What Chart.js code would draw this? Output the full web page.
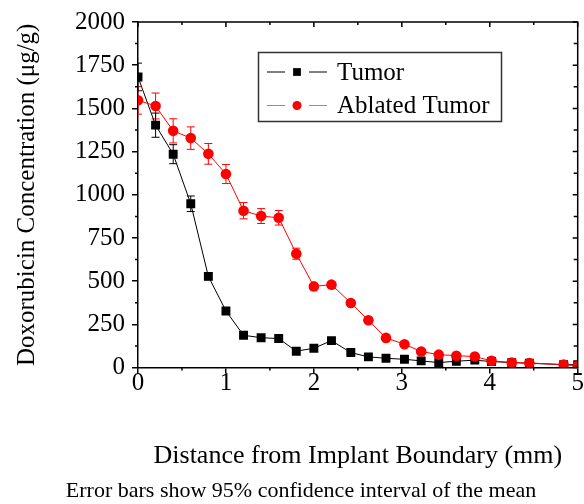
<!DOCTYPE html>
<html>
<head>
<meta charset="utf-8">
<script src="https://cdn.jsdelivr.net/npm/chart.js@4"></script>
<style>
  html, body { margin: 0; padding: 0; background: #fff; }
  #wrap { width: 584px; height: 504px; }
</style>
</head>
<body>
<div id="wrap"><canvas id="chart" width="584" height="504"></canvas></div>
<script>
const distance = [0, 0.2, 0.4, 0.6, 0.8, 1.0, 1.2, 1.4, 1.6, 1.8, 2.0, 2.2, 2.42, 2.62, 2.82, 3.03, 3.22, 3.42, 3.62, 3.83, 4.02, 4.25, 4.45, 4.84, 5.0];
const tumor = [1682, 1403, 1235, 948, 528, 328, 187, 173, 168, 95, 112, 156, 87, 62, 54, 48, 39, 29, 37, 43, 35, 29, 25, 17, 17];
const tumorErr = [80, 70, 55, 45, 20, 12, 10, 8, 8, 8, 8, 10, 8, 5, 5, 5, 5, 5, 5, 5, 5, 5, 5, 5, 5];
const ablated = [1547, 1514, 1370, 1328, 1237, 1120, 908, 877, 867, 659, 470, 480, 374, 274, 172, 135, 93, 75, 69, 64, 39, 29, 27, 17, 10];
const ablatedErr = [80, 75, 70, 65, 60, 55, 47, 43, 42, 32, 15, 15, 10, 8, 8, 8, 8, 8, 8, 8, 8, 5, 5, 5, 5];

const xTicks = [0, 1, 2, 3, 4, 5];
const yTicks = [0, 250, 500, 750, 1000, 1250, 1500, 1750, 2000];

const FONT = "'Liberation Serif', 'Times New Roman', serif";

const toPoints = (ys) => ys.map((y, i) => ({x: distance[i], y: y}));

// error bars, drawn under the markers
const errorBars = {
    id: 'errorBars',
    beforeDatasetsDraw(chart) {
        const ctx = chart.ctx;
        const xs = chart.scales.x, ys = chart.scales.y;
        const area = chart.chartArea;
        ctx.save();
        ctx.beginPath();
        ctx.rect(area.left, area.top - 10, area.right - area.left, area.bottom - area.top + 20);
        ctx.clip();
        chart.data.datasets.forEach(ds => {
            ctx.strokeStyle = ds.borderColor;
            ctx.lineWidth = 1;
            ds.data.forEach((p, i) => {
                const e = ds.errors[i];
                const px = xs.getPixelForValue(p.x);
                const top = ys.getPixelForValue(p.y + e);
                const bot = ys.getPixelForValue(p.y - e);
                ctx.beginPath();
                ctx.moveTo(px, top); ctx.lineTo(px, bot);
                ctx.moveTo(px - 4, top); ctx.lineTo(px + 4, top);
                ctx.moveTo(px - 4, bot); ctx.lineTo(px + 4, bot);
                ctx.stroke();
            });
        });
        ctx.restore();
    }
};

// top/right frame, minor ticks and mirrored ticks
const frame = {
    id: 'frame',
    afterDraw(chart) {
        const ctx = chart.ctx;
        const xs = chart.scales.x, ys = chart.scales.y;
        const {left, right, top, bottom} = chart.chartArea;
        ctx.save();
        ctx.strokeStyle = '#000';
        ctx.lineWidth = 1.5;
        ctx.beginPath();
        ctx.moveTo(left, top); ctx.lineTo(right, top); ctx.lineTo(right, bottom);
        ctx.stroke();
        ctx.beginPath();
        xTicks.forEach((v, i) => {
            const px = xs.getPixelForValue(v);
            ctx.moveTo(px, top); ctx.lineTo(px, top + 5);
            if (i < xTicks.length - 1) {
                const mx = xs.getPixelForValue((v + xTicks[i + 1]) / 2);
                ctx.moveTo(mx, bottom); ctx.lineTo(mx, bottom + 3);
                ctx.moveTo(mx, top); ctx.lineTo(mx, top + 3);
            }
        });
        yTicks.forEach((v, i) => {
            const py = ys.getPixelForValue(v);
            ctx.moveTo(right, py); ctx.lineTo(right - 5, py);
            if (i < yTicks.length - 1) {
                const my = ys.getPixelForValue((v + yTicks[i + 1]) / 2);
                ctx.moveTo(left, my); ctx.lineTo(left - 3, my);
                ctx.moveTo(right, my); ctx.lineTo(right - 4, my);
            }
        });
        ctx.stroke();
        ctx.restore();
    }
};

// boxed legend: line - marker - line, label
const boxLegend = {
    id: 'boxLegend',
    afterDraw(chart) {
        const ctx = chart.ctx;
        const rows = [chart.data.datasets[1], chart.data.datasets[0]];
        ctx.save();
        ctx.strokeStyle = '#333';
        ctx.lineWidth = 1.5;
        ctx.strokeRect(258.5, 52.5, 243, 69);
        rows.forEach((ds, i) => {
            const y = 72 + i * 33.5;
            ctx.strokeStyle = ds.legendLine;
            ctx.lineWidth = 1;
            ctx.beginPath();
            ctx.moveTo(267, y); ctx.lineTo(285, y);
            ctx.moveTo(309, y); ctx.lineTo(327, y);
            ctx.stroke();
            ctx.fillStyle = ds.pointBackgroundColor;
            Chart.helpers.drawPoint(ctx, {pointStyle: ds.pointStyle, radius: ds.pointStyle === 'rect' ? 5.5 : 4.5, rotation: 0}, 297, y);
            ctx.fillStyle = '#000';
            ctx.font = "25px " + FONT;
            ctx.textBaseline = 'middle';
            ctx.fillText(ds.label, 337, y + 1);
        });
        ctx.restore();
    }
};

new Chart(document.getElementById('chart'), {
    type: 'line',
    data: {
        datasets: [
            {
                label: 'Ablated Tumor',
                data: toPoints(ablated),
                errors: ablatedErr,
                borderColor: '#ff0000',
                legendLine: '#ff6060',
                borderWidth: 1,
                pointStyle: 'circle',
                pointRadius: 5.3,
                pointBackgroundColor: '#ff0000',
                pointBorderWidth: 0,
                order: 0
            },
            {
                label: 'Tumor',
                data: toPoints(tumor),
                errors: tumorErr,
                borderColor: '#000000',
                legendLine: '#000000',
                borderWidth: 1,
                pointStyle: 'rect',
                pointRadius: 6.3,
                pointBackgroundColor: '#000000',
                pointBorderWidth: 0,
                order: 1
            }
        ]
    },
    options: {
        responsive: false,
        animation: false,
        layout: {padding: {left: 24, right: 6, top: 22, bottom: 0}},
        plugins: {
            legend: {display: false},
            tooltip: {enabled: false},
            title: {
                display: true,
                position: 'bottom',
                text: 'Error bars show 95% confidence interval of the mean',
                color: '#000',
                font: {family: FONT, size: 22, weight: 'normal'},
                padding: 0
            }
        },
        scales: {
            x: {
                type: 'linear',
                min: 0,
                max: 5,
                afterFit: (s) => { s.height = 110; },
                afterBuildTicks: (s) => { s.ticks = xTicks.map(v => ({value: v})); },
                border: {color: '#000', width: 1.5},
                grid: {drawOnChartArea: false, color: '#000', lineWidth: 1.5, tickLength: 6},
                ticks: {color: '#000', padding: -3, maxRotation: 0, font: {family: FONT, size: 25, lineHeight: 1}, callback: v => String(v)},
                title: {
                    display: true,
                    text: 'Distance from Implant Boundary (mm)',
                    color: '#000',
                    font: {family: FONT, size: 26},
                    padding: {top: 0, bottom: 6}
                }
            },
            y: {
                min: 0,
                max: 2000,
                afterFit: (s) => { s.width = 114; },
                afterBuildTicks: (s) => { s.ticks = yTicks.map(v => ({value: v})); },
                border: {color: '#000', width: 1.5},
                grid: {drawOnChartArea: false, color: '#000', lineWidth: 1.5, tickLength: 6},
                ticks: {color: '#000', padding: 7, font: {family: FONT, size: 25}, callback: v => String(v)},
                title: {
                    display: true,
                    text: 'Doxorubicin Concentration (μg/g)',
                    color: '#000',
                    font: {family: FONT, size: 25},
                    padding: {top: -12, bottom: 0}
                }
            }
        }
    },
    plugins: [errorBars, frame, boxLegend]
});
</script>
</body>
</html>
